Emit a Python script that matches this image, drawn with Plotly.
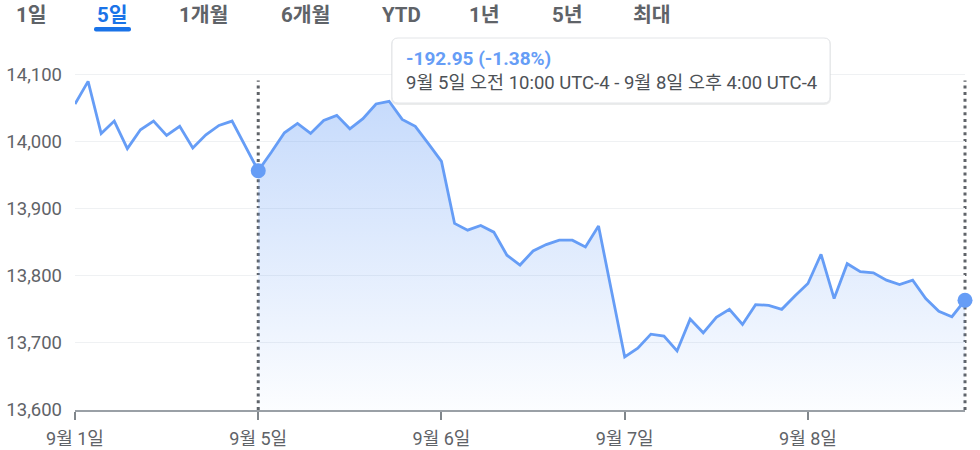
import plotly.graph_objects as go

# ---- data ----
values = [
    14056, 14089.6, 14012, 14030.5, 13989.4, 14017.6, 14030.5, 14009, 14022.6, 13990.4, 14010, 14024, 14030.5, 13993, 13956.5,
    13984, 14013, 14027, 14012, 14031.5, 14039, 14019, 14034, 14056, 14060, 14033, 14022.6, 13997, 13970.5,
    13878, 13868, 13875, 13865, 13830.6, 13816, 13837, 13846.5, 13853, 13853, 13843, 13874, 13776.5,
    13679, 13692, 13713, 13710, 13688, 13735.4, 13715, 13738, 13750, 13727.5, 13757, 13756, 13750,
    13770, 13788.5, 13832, 13766, 13818, 13806, 13804.5, 13793.5, 13787, 13793.5, 13766, 13747, 13739, 13763.55,
]
idx = list(range(len(values)))
day_tick_idx = [0, 14, 28, 42, 56]
day_tick_labels = ["9월 1일", "9월 5일", "9월 6일", "9월 7일", "9월 8일"]
y_ticks = [13600, 13700, 13800, 13900, 14000, 14100]
y_tick_labels = ["13,600", "13,700", "13,800", "13,900", "14,000", "14,100"]
sel_start, sel_end = 14, 68
tabs = ["1일", "5일", "1개월", "6개월", "YTD", "1년", "5년", "최대"]
tab_centers_px = [31, 112, 203, 305, 401, 484, 567, 652]
change_text = "-192.95 (-1.38%)"
range_text = "9월 5일 오전 10:00 UTC-4 - 9월 8일 오후 4:00 UTC-4"

BLUE = "#669df6"
FONT = "Roboto, 'Noto Sans CJK KR', sans-serif"

W, H = 980, 450
ML, MR, MT, MB = 75, 15, 61, 40
PW, PH = W - ML - MR, H - MT - MB
YMIN, YMAX = 13600, 14120
XMAX = len(values) - 1


def px_x(p):
    return (p - ML) / PW


def px_y(p):
    return (H - MB - p) / PH


fig = go.Figure()

sx = idx[sel_start:sel_end + 1]
sy = values[sel_start:sel_end + 1]
fig.add_trace(go.Scatter(
    x=sx, y=sy, mode="lines", line=dict(width=0), fill="tozeroy",
    fillgradient=dict(type="vertical",
                      colorscale=[[0, "rgba(102,157,246,0.02)"], [1, "rgba(102,157,246,0.37)"]],
                      start=YMIN, stop=max(sy)),
    hoverinfo="skip", showlegend=False))

fig.add_trace(go.Scatter(
    x=idx, y=values, mode="lines", line=dict(color=BLUE, width=2.8),
    hoverinfo="skip", showlegend=False))

# dotted selection lines (paper x so they are not clipped at the edge)
for i in (sel_start, sel_end):
    fig.add_shape(type="line", x0=i / XMAX, x1=i / XMAX, y0=YMIN, y1=14091, xref="paper", yref="y",
                  line=dict(color="#5f6368", width=3, dash="3px,3.7px"), layer="between")

fig.add_trace(go.Scatter(
    x=[sel_start, sel_end], y=[values[sel_start], values[sel_end]], mode="markers",
    marker=dict(color=BLUE, size=15), cliponaxis=False, hoverinfo="skip", showlegend=False))

# tooltip box (rounded)
bx0, bx1, by0, by1, r = 392, 830, 38, 103, 6
def rounded_path(x0, y0, x1, y1, r):
    X = lambda v: px_x(v)
    Y = lambda v: px_y(v)
    return (f"M {X(x0+r)},{Y(y0)} L {X(x1-r)},{Y(y0)} Q {X(x1)},{Y(y0)} {X(x1)},{Y(y0+r)} "
            f"L {X(x1)},{Y(y1-r)} Q {X(x1)},{Y(y1)} {X(x1-r)},{Y(y1)} "
            f"L {X(x0+r)},{Y(y1)} Q {X(x0)},{Y(y1)} {X(x0)},{Y(y1-r)} "
            f"L {X(x0)},{Y(y0+r)} Q {X(x0)},{Y(y0)} {X(x0+r)},{Y(y0)} Z")

fig.add_shape(type="path", path=rounded_path(bx0 - 1, by0, bx1 + 1, by1 + 2, r + 1), xref="paper", yref="paper",
              fillcolor="rgba(60,64,67,0.10)", line=dict(width=0), layer="above")
fig.add_shape(type="path", path=rounded_path(bx0, by0, bx1, by1, r), xref="paper", yref="paper",
              fillcolor="white", line=dict(color="#e3e5e8", width=1), layer="above")

fig.add_annotation(x=px_x(404), y=px_y(58), xref="paper", yref="paper", text="<b>" + change_text + "</b>",
                   showarrow=False, xanchor="left", yanchor="middle",
                   font=dict(family=FONT, size=19, color=BLUE))
fig.add_annotation(x=px_x(404), y=px_y(83), xref="paper", yref="paper", text=range_text,
                   showarrow=False, xanchor="left", yanchor="middle",
                   font=dict(family=FONT, size=18.5, color="#4d5156"))

# tabs
for t, c in zip(tabs, tab_centers_px):
    sel = t == "5일"
    fig.add_annotation(x=px_x(c), y=px_y(15), xref="paper", yref="paper", text="<b>" + t + "</b>",
                       showarrow=False, xanchor="center", yanchor="middle",
                       font=dict(family=FONT, size=20.5, color="#1a73e8" if sel else "#5f6368"))
fig.add_shape(type="path", path=rounded_path(94, 27, 131, 31.5, 2), xref="paper", yref="paper",
              fillcolor="#1a73e8", line=dict(width=0), layer="above")

fig.update_layout(
    width=W, height=H, margin=dict(l=ML, r=MR, t=MT, b=MB, autoexpand=False),
    paper_bgcolor="white", plot_bgcolor="white",
    font=dict(family=FONT, color="#5f6368"),
    hovermode=False,
    xaxis=dict(range=[0, XMAX], tickvals=day_tick_idx, ticktext=day_tick_labels,
               showgrid=False, zeroline=False, showline=True, linecolor="#9aa0a6", linewidth=2,
               ticks="outside", ticklen=8, tickwidth=2, tickcolor="#80868b", automargin=False,
               ticklabelstandoff=3,
               tickfont=dict(size=18, color="#5f6368"), fixedrange=True),
    yaxis=dict(range=[YMIN, YMAX], tickvals=y_ticks, ticktext=y_tick_labels, automargin=False,
               showgrid=True, gridcolor="#eff1f3", gridwidth=1, zeroline=False, showline=False,
               ticks="", ticklabelstandoff=12, tickfont=dict(size=18.5, color="#5f6368"), fixedrange=True),
)

fig.write_html("out.html", config={"displayModeBar": False},
               post_script="document.body.style.margin='0';document.body.style.overflow='hidden';")
